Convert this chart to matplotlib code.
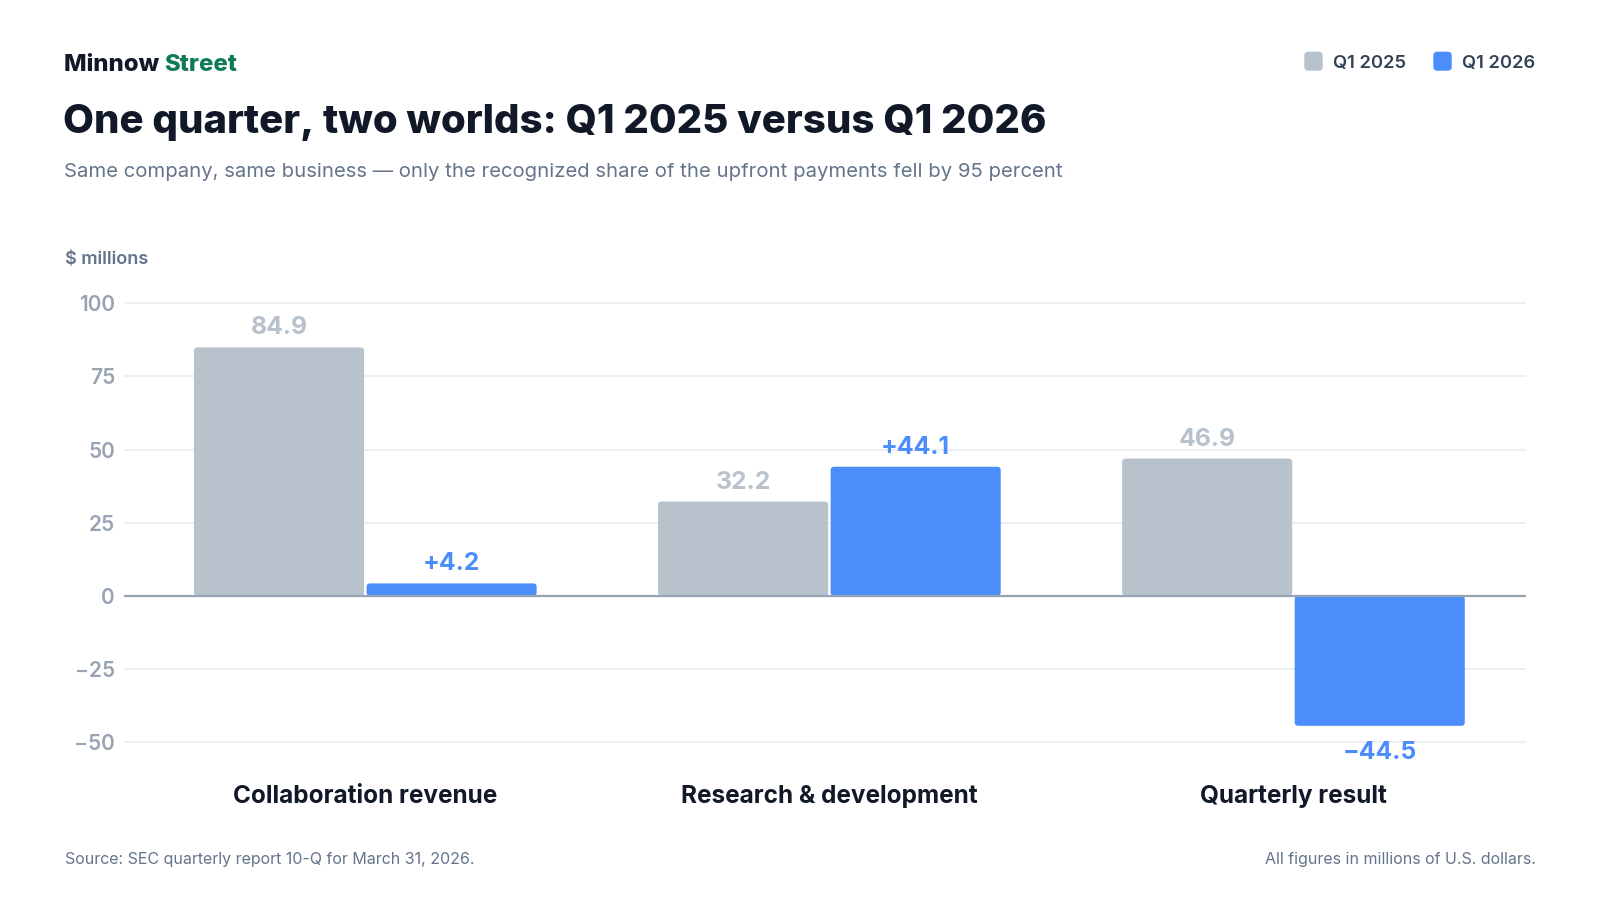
import matplotlib
matplotlib.use("Agg")
import matplotlib.pyplot as plt
from matplotlib.patches import FancyBboxPatch
import numpy as np

# ---- data ----
categories = ["Collaboration revenue", "Research & development", "Quarterly result"]
series_names = ["Q1 2025", "Q1 2026"]
q1_2025 = [84.9, 32.2, 46.9]
q1_2026 = [4.2, 44.1, -44.5]
yticks = [-50, -25, 0, 25, 50, 75, 100]
ytick_labels = ["\u221250", "\u221225", "0", "25", "50", "75", "100"]

# ---- style ----
FONT = "Inter"
plt.rcParams["font.family"] = [FONT, "DejaVu Sans"]
GRAY = "#b8c2cd"
BLUE = "#4b8dfb"
DARK = "#111827"
MUTED = "#64748b"
TICK = "#98a3b3"

W, H = 1600, 900
fig = plt.figure(figsize=(16, 9), dpi=100)
fig.patch.set_facecolor("white")

def fx(px):
    return px / W

def fy(py):
    return 1 - py / H

ylim = (-52, 101)
ax_left, ax_right = 124, 1525.5
ax_top = 595.7 - ylim[1] * 2.924
ax_bot = 595.7 - ylim[0] * 2.924
ax = fig.add_axes([fx(ax_left), fy(ax_bot), (ax_right - ax_left) / W, (ax_bot - ax_top) / H])
ax.set_xlim(-0.52, 2.5)
ax.set_ylim(*ylim)

x = np.arange(len(categories))
bw = 0.3665
gap = 0.0054
bars1 = ax.bar(x - bw / 2 - gap / 2, q1_2025, width=bw, color=GRAY, zorder=2)
bars2 = ax.bar(x + bw / 2 + gap / 2, q1_2026, width=bw, color=BLUE, zorder=2)

# round the corners of the bars slightly
px_x = (ax_right - ax_left) / (ax.get_xlim()[1] - ax.get_xlim()[0])  # px per x unit
px_y = (ax_bot - ax_top) / (ylim[1] - ylim[0])  # px per y unit
aspect = px_x / px_y
r = 3.5 / px_x
for bc in (bars1, bars2):
    for rect in bc:
        rx, ry = rect.get_x(), rect.get_y()
        rw, rh = rect.get_width(), rect.get_height()
        if rh < 0:
            ry, rh = ry + rh, -rh
        rect.set_visible(False)
        p = FancyBboxPatch((rx, ry), rw, rh,
                           boxstyle=f"round,pad=0,rounding_size={r}",
                           mutation_aspect=aspect,
                           facecolor=rect.get_facecolor(), edgecolor="none", zorder=2)
        ax.add_patch(p)

# grid & axes
ax.set_yticks(yticks)
ax.set_yticklabels(ytick_labels)
ax.yaxis.grid(True, color="#eceff3", linewidth=1.5, zorder=0)
ax.set_axisbelow(True)
ax.axhline(0, color="#97a2b3", linewidth=1.6, zorder=3)
for s in ax.spines.values():
    s.set_visible(False)
ax.tick_params(axis="y", length=0, pad=6.5, labelsize=15, labelcolor=TICK)
for t in ax.get_yticklabels():
    t.set_fontweight(600)
ax.set_xticks([])

# category labels
for xi, c in zip(x, categories):
    ax.text(xi, (ax_bot - 803.3) / (ax_bot - ax_top), c, transform=ax.get_xaxis_transform(),
            ha="center", va="baseline", fontsize=17.5, fontweight=700, color=DARK)

# value labels
for b, v in zip(bars1, q1_2025):
    cx = b.get_x() + b.get_width() / 2
    ax.annotate(f"{v:.1f}", (cx, v), xytext=(0, 13), textcoords="offset pixels",
                ha="center", va="baseline", fontsize=17.8, fontweight="bold", color=GRAY)
for b, v in zip(bars2, q1_2026):
    cx = b.get_x() + b.get_width() / 2
    lab = ("+" if v >= 0 else "\u2212") + f"{abs(v):.1f}"
    off = 13 if v >= 0 else -33
    ax.annotate(lab, (cx, v), xytext=(0, off), textcoords="offset pixels",
                ha="center", va="baseline", fontsize=17.8, fontweight="bold", color=BLUE)

# header
renderer = fig.canvas.get_renderer()
t1 = fig.text(fx(64), fy(70.7), "Minnow ", fontsize=17.2, fontweight=800, color=DARK, va="baseline")
bb = t1.get_window_extent(renderer)
fig.text(bb.x1 / W, fy(70.7), "Street", fontsize=17.2, fontweight=800, color="#0f7a59", va="baseline")
fig.text(fx(63), fy(132.7), "One quarter, two worlds: Q1 2025 versus Q1 2026",
         fontsize=28.9, fontweight=800, color=DARK, va="baseline")
fig.text(fx(64), fy(176.7),
         "Same company, same business \u2014 only the recognized share of the upfront payments fell by 95 percent",
         fontsize=14.6, color=MUTED, va="baseline")
fig.text(fx(65), fy(264), "$ millions", fontsize=13, fontweight=600, color=MUTED, va="baseline")

# legend
leg_x = [1304.3, 1433.3]
for lx, name, col in zip(leg_x, series_names, [GRAY, BLUE]):
    sq = FancyBboxPatch((fx(lx), fy(70.7)), 18.4 / W, 19 / H,
                        boxstyle="round,pad=0,rounding_size=0.0025", mutation_aspect=W / H,
                        transform=fig.transFigure, facecolor=col, edgecolor="none")
    fig.patches.append(sq)
    fig.text(fx(lx + 28.4), fy(68.3), name, fontsize=13.2, fontweight=600, color="#334155", va="baseline")

# footer
fig.text(fx(65), fy(864), "Source: SEC quarterly report 10-Q for March 31, 2026.",
         fontsize=11.5, color=MUTED, va="baseline")
fig.text(fx(1535.7), fy(864), "All figures in millions of U.S. dollars.",
         fontsize=11.5, color=MUTED, va="baseline", ha="right")

fig.savefig("out.png", dpi=100, facecolor="white")
